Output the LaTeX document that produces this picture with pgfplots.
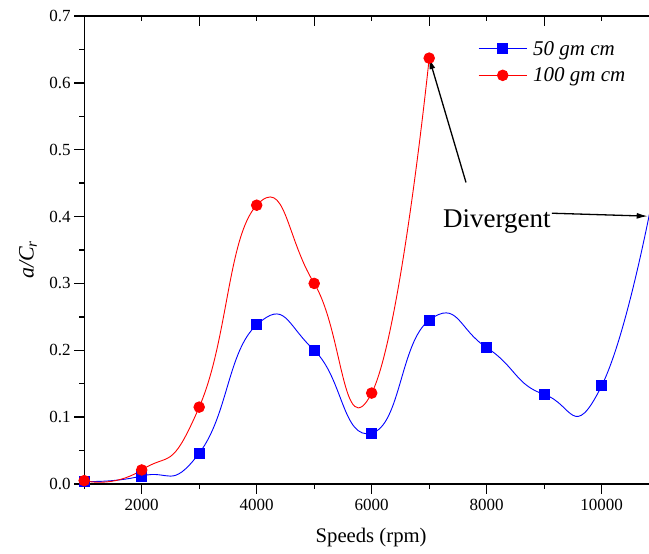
\documentclass[border=0pt]{standalone}
\usepackage{fontspec}
\setmainfont{Liberation Serif}
\usepackage{pgfplots}
\pgfplotsset{compat=1.18}
\usetikzlibrary{arrows.meta}
\pgfplotstableread{
x y
1000 0.004
2000 0.012
3000 0.046
4000 0.238
5000 0.200
6000 0.076
7000 0.245
8000 0.204
9000 0.134
10000 0.147
11000 0.48
}\blue
\pgfplotstableread{
x y
1000 0.005
2000 0.021
3000 0.115
4000 0.417
5000 0.300
6000 0.136
7000 0.637
}\red
\begin{document}
\begin{tikzpicture}
\path[use as bounding box] (0pt,0pt) rectangle (649pt,554pt);
\begin{axis}[
  at={(84.2pt,70pt)}, anchor=south west,
  scale only axis, width=575pt, height=468pt,
  xmin=1000, xmax=11000, ymin=0, ymax=0.7,
  scaled x ticks=false, scaled y ticks=false,
  xtick={2000,4000,6000,8000,10000},
  xticklabels={2000,4000,6000,8000,10000},
  minor xtick={1000,3000,5000,7000,9000},
  ytick={0,0.1,0.2,0.3,0.4,0.5,0.6,0.7},
  yticklabels={0.0,0.1,0.2,0.3,0.4,0.5,0.6,0.7},
  minor ytick={0.05,0.15,0.25,0.35,0.45,0.55,0.65},
  xtick pos=left, ytick pos=left,
  tick align=outside,
  major tick length=10pt, minor tick length=5pt,
  every tick/.style={black, line width=1.3pt},
  minor tick style={black, line width=1.3pt},
  axis line style={line width=1.3pt},
  tick label style={font=\fontsize{17}{20}\selectfont\rmfamily},
  xticklabel style={yshift=-2pt},
  xlabel={Speeds (rpm)},
  xlabel style={at={(axis description cs:0.499,-0.126)}, anchor=base, font=\fontsize{20.7}{24}\selectfont},
  ylabel={\itshape a/C\textsubscript{r}},
  ylabel style={at={(axis description cs:-0.0977,0.479)}, anchor=center, font=\fontsize{22}{26}\selectfont},
  legend style={at={(0.685,0.951)}, anchor=north west, draw=none, fill=none,
    font=\fontsize{21}{24}\selectfont\itshape, row sep=7pt, column sep=4pt, inner sep=0pt},
  legend cell align=left,
  legend image code/.code={\draw[mark repeat=2,mark phase=2,#1] plot coordinates {(0pt,0pt) (24pt,0pt) (48pt,0pt)};},
]
\addplot[blue, line width=0.9pt, smooth, tension=0.9, mark=square*, mark size=5pt, mark options={solid, fill=blue, draw=blue}] table[x=x,y=y] {\blue};
\addlegendentry{50 gm cm}
\addplot[red, line width=0.9pt, smooth, tension=0.9, mark=*, mark size=5.3pt, mark options={solid, fill=red, draw=red}] table[x=x,y=y] {\red};
\addlegendentry{100 gm cm}
\draw[line width=1.3pt, -{Latex[length=11pt,width=6pt]}] (axis cs:7640,0.451) -- (axis cs:7000,0.637);
\draw[line width=1.3pt, -{Latex[length=11pt,width=6pt]}] (axis cs:9135,0.405) -- (axis cs:10800,0.4006);
\node[anchor=base west, font=\fontsize{27}{30}\selectfont, inner sep=0pt] at (axis cs:7240,0.384) {Divergent};
\end{axis}
\begin{axis}[
  at={(84.2pt,70pt)}, anchor=south west,
  scale only axis, width=575pt, height=468pt,
  xmin=1000, xmax=11000, ymin=0, ymax=0.7,
  scaled x ticks=false, scaled y ticks=false,
  axis line style={draw=none},
  xtick={1000,3000,5000,7000,9000,11000},
  minor xtick={2000,4000,6000,8000,10000},
  xticklabels={}, ytick=\empty,
  xtick pos=right,
  tick align=inside,
  major tick length=10pt, minor tick length=5pt,
  every tick/.style={black, line width=1.3pt},
  minor tick style={black, line width=1.3pt},
]
\end{axis}
\end{tikzpicture}
\end{document}
